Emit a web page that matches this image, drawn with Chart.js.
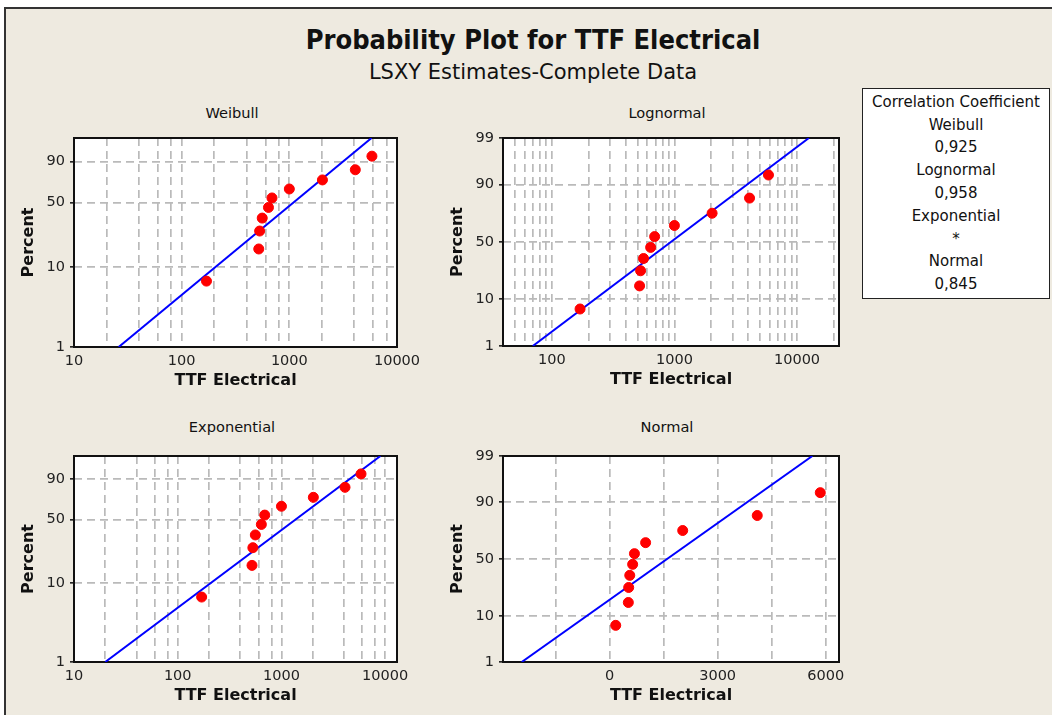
<!DOCTYPE html>
<html>
<head>
<meta charset="utf-8">
<script src="https://cdn.jsdelivr.net/npm/chart.js@4/dist/chart.umd.min.js"></script>
<style>
  body { margin:0; width:1052px; height:715px; background:#fff; overflow:hidden; font-family:"DejaVu Sans", sans-serif; color:#111; }
  #frame { position:absolute; left:4px; top:7px; width:1048px; height:708px; background:#eeeae0;
           border-left:2px solid #333; border-top:2px solid #333; }
  .abs { position:absolute; }
  #title { left:14px; width:1038px; top:23px; text-align:center; font:bold 27px/34px "DejaVu Sans Condensed", "DejaVu Sans", sans-serif; }
  #subtitle { left:14px; width:1038px; top:59px; text-align:center; font:21px/26px "DejaVu Sans", sans-serif; }
  .ptitle { width:200px; text-align:center; font:14.6px/18px "DejaVu Sans", sans-serif; }
  #corr { left:862px; top:88px; width:188px; height:211px; box-sizing:border-box; background:#fff;
          border:1.5px solid #222; padding-top:1.8px; text-align:center; font:15px/22.8px "DejaVu Sans", sans-serif; }
</style>
</head>
<body>
<div id="frame"></div>
<div id="title" class="abs">Probability Plot for TTF Electrical</div>
<div id="subtitle" class="abs">LSXY Estimates-Complete Data</div>
<div id="corr" class="abs"></div>

<script>
/* ---------- data ---------- */
const ttfHours    = [170, 520, 530, 560, 640, 690, 1000, 2030, 4100, 5850];
const percentRank = [6.7, 16.3, 26.0, 35.6, 45.2, 54.8, 64.4, 74.0, 83.7, 93.3];

// fitted lines: x at 1% and at 99%
const fitPercent      = [1, 99];
const weibullFitX     = [26, 5800];
const lognormalFitX   = [70, 12500];
const exponentialFitX = [20, 9000];
const normalFitX      = [-2440, 5630];

// axis ticks / grid
const logGridWide   = [10, 20, 40, 60, 80, 100, 200, 400, 600, 800, 1000, 2000, 4000, 6000, 8000, 10000];
const logLabelsWide = [10, 100, 1000, 10000];
const logGridFine   = [50, 60, 70, 80, 90, 100, 200, 300, 400, 500, 600, 700, 800, 900,
                       1000, 2000, 3000, 4000, 5000, 6000, 7000, 8000, 9000, 10000, 20000];
const logLabelsFine = [100, 1000, 10000];
const normalGridX   = [-1500, 0, 1500, 3000, 4500, 6000];
const normalLabelsX = [0, 3000, 6000];
const pctTicksShort = [1, 10, 50, 90];
const pctTicksFull  = [1, 10, 50, 90, 99];

const panelNames = ["Weibull", "Lognormal", "Exponential", "Normal"];
const corrValues = ["0,925", "0,958", "*", "0,845"];

/* ---------- probability scale ---------- */
function probit(p){
  const a=[-39.69683028665376,220.9460984245205,-275.9285104469687,138.3577518672690,-30.66479806614716,2.506628277459239];
  const b=[-54.47609879822406,161.5858368580409,-155.6989798598866,66.80131188771972,-13.28068155288572];
  const c=[-0.007784894002430293,-0.3223964580411365,-2.400758277161838,-2.549732539343734,4.374664141464968,2.938163982698783];
  const d=[0.007784695709041462,0.3224671290700398,2.445134137142996,3.754408661907416];
  const pl=0.02425;
  if(p<pl){
    const q=Math.sqrt(-2*Math.log(p));
    return (((((c[0]*q+c[1])*q+c[2])*q+c[3])*q+c[4])*q+c[5])/((((d[0]*q+d[1])*q+d[2])*q+d[3])*q+1);
  }
  if(p>1-pl){
    const q=Math.sqrt(-2*Math.log(1-p));
    return -(((((c[0]*q+c[1])*q+c[2])*q+c[3])*q+c[4])*q+c[5])/((((d[0]*q+d[1])*q+d[2])*q+d[3])*q+1);
  }
  const q=p-0.5, r=q*q;
  return (((((a[0]*r+a[1])*r+a[2])*r+a[3])*r+a[4])*r+a[5])*q/(((((b[0]*r+b[1])*r+b[2])*r+b[3])*r+b[4])*r+1);
}
const probTransforms = {
  weibull: p => Math.log(-Math.log(1 - p/100)),
  normal:  p => probit(p/100)
};

class ProbabilityScale extends Chart.Scale {
  determineDataLimits(){ this.min = this.options.min; this.max = this.options.max; }
  buildTicks(){ return this.options.probTicks.map(value => ({value})); }
  getLabelForValue(v){ return String(v); }
  configure(){
    super.configure();
    const f = probTransforms[this.options.dist];
    this._tLo = f(this.min); this._tHi = f(this.max);
  }
  getPixelForValue(v){
    const f = probTransforms[this.options.dist];
    return this.getPixelForDecimal((f(v) - this._tLo) / (this._tHi - this._tLo));
  }
  getValueForPixel(px){
    const f = probTransforms[this.options.dist];
    const t = this._tLo + this.getDecimalForPixel(px) * (this._tHi - this._tLo);
    let lo = 0.001, hi = 99.999;
    for(let i=0;i<50;i++){ const m=(lo+hi)/2; if(f(m)<t) lo=m; else hi=m; }
    return (lo+hi)/2;
  }
}
ProbabilityScale.id = "probability";
ProbabilityScale.defaults = {};
Chart.register(ProbabilityScale);

/* ---------- white plot area + black frame ---------- */
const framePlugin = {
  id: "frame",
  beforeDraw(chart){
    const {ctx, chartArea:a} = chart;
    ctx.save(); ctx.fillStyle = "#fff"; ctx.fillRect(a.left, a.top, a.width, a.height); ctx.restore();
  },
  beforeDatasetsDraw(chart){
    const {ctx, chartArea:a} = chart;
    ctx.save(); ctx.strokeStyle = "#111"; ctx.lineWidth = 2;
    ctx.strokeRect(a.left, a.top, a.width, a.height); ctx.restore();
  }
};

/* ---------- panels ---------- */
const PAD = {top:10, right:26, left:0, bottom:0};
const YW = 60, XH = 48;
const panels = [
  {name:panelNames[0], area:[74,138,397,347], xType:"logarithmic", xMin:10, xMax:10000, xGrid:logGridWide, xLabels:logLabelsWide, dist:"weibull", yTicks:pctTicksShort, fit:weibullFitX,     titleAt:[232,113]},
  {name:panelNames[1], area:[503,138,839,346], xType:"logarithmic", xMin:40, xMax:22000, xGrid:logGridFine, xLabels:logLabelsFine, dist:"normal",  yTicks:pctTicksFull,  fit:lognormalFitX,  titleAt:[667,113]},
  {name:panelNames[2], area:[74,456,397,662], xType:"logarithmic", xMin:10, xMax:13000, xGrid:logGridWide, xLabels:logLabelsWide, dist:"weibull", yTicks:pctTicksShort, fit:exponentialFitX, titleAt:[232,427]},
  {name:panelNames[3], area:[503,456,839,662], xType:"linear",      xMin:-2960, xMax:6370, xGrid:normalGridX, xLabels:normalLabelsX, dist:"normal", yTicks:pctTicksFull,  fit:normalFitX,     titleAt:[667,427]}
];

const GRID = "#bababa";
const tickFont  = {family:"DejaVu Sans", size:14.5};
const titleFont = {family:"DejaVu Sans", size:16, weight:"bold"};

panels.forEach(p=>{
  const t = document.createElement("div");
  t.className = "abs ptitle";
  t.style.left = (p.titleAt[0]-100)+"px"; t.style.top = (p.titleAt[1]-9)+"px";
  t.textContent = p.name;
  document.body.appendChild(t);

  const [l, tp, r, b] = p.area;
  const cv = document.createElement("canvas");
  const cl = l - YW, ct = tp - PAD.top;
  cv.width = r + PAD.right - cl; cv.height = b + XH - ct;
  cv.className = "abs";
  cv.style.left = cl+"px"; cv.style.top = ct+"px";
  cv.style.width = cv.width+"px"; cv.style.height = cv.height+"px";
  document.body.appendChild(cv);

  new Chart(cv, {
    type: "scatter",
    data: {
      datasets: [
        {data: ttfHours.map((x,i)=>({x, y:percentRank[i]})),
         pointRadius:5, pointBackgroundColor:"#ff0000", pointBorderColor:"#ff0000", pointBorderWidth:1},
        {data: p.fit.map((x,i)=>({x, y:fitPercent[i]})), showLine:true,
         borderColor:"#0000ff", borderWidth:2, pointRadius:0}
      ]
    },
    options: {
      responsive:false, animation:false, devicePixelRatio:1,
      layout:{padding:PAD},
      plugins:{legend:{display:false}, tooltip:{enabled:false}},
      scales:{
        x:{
          type:p.xType, min:p.xMin, max:p.xMax,
          afterBuildTicks: s => { s.ticks = p.xGrid.map(value=>({value})); },
          afterFit: s => { s.height = XH; s.paddingLeft = 0; s.paddingRight = 0; },
          grid:{color:GRID, lineWidth:1.7, drawTicks:false},
          border:{display:false, dash:[8,5]},
          ticks:{autoSkip:false, maxRotation:0, padding:6, color:"#222", font:tickFont,
                 callback: v => p.xLabels.includes(v) ? String(v) : ""},
          title:{display:true, text:"TTF Electrical", color:"#111", font:titleFont, padding:{top:0, bottom:5}}
        },
        y:{
          type:"probability", min:1, max:99, dist:p.dist, probTicks:p.yTicks,
          afterFit: s => { s.width = YW; s.paddingTop = 0; s.paddingBottom = 0; },
          grid:{color:GRID, lineWidth:1.7, drawTicks:true, tickLength:4, tickColor:"#111", tickWidth:1.5, tickBorderDash:[]},
          border:{display:false, dash:[8,5]},
          ticks:{autoSkip:false, padding:5, color:"#222", font:tickFont},
          title:{display:true, text:"Percent", color:"#111", font:titleFont, padding:{top:5, bottom:0}}
        }
      }
    },
    plugins:[framePlugin]
  });
});

/* ---------- correlation box ---------- */
const corr = document.getElementById("corr");
const lines = ["Correlation Coefficient"];
panelNames.forEach((n,i)=>{ lines.push(n, corrValues[i]); });
lines.forEach(s=>{ const d=document.createElement("div"); d.textContent=s; corr.appendChild(d); });
</script>
</body>
</html>
